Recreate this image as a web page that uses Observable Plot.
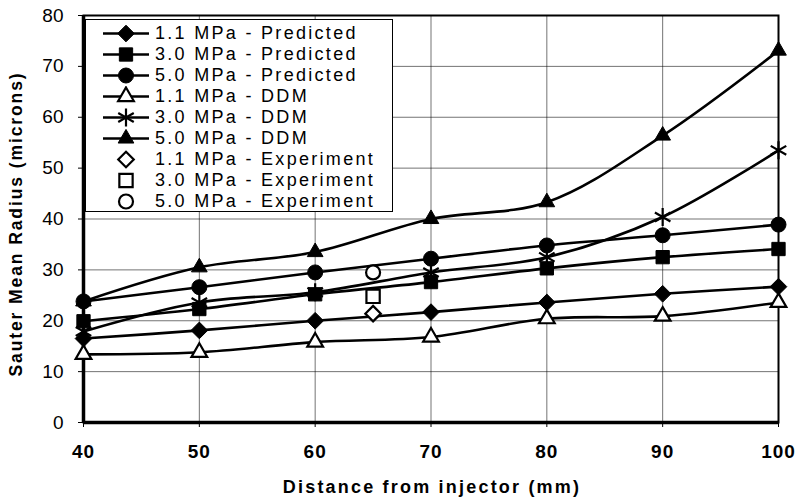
<!DOCTYPE html>
<html>
<head>
<meta charset="utf-8">
<script src="https://cdn.jsdelivr.net/npm/d3@7"></script>
<script src="https://cdn.jsdelivr.net/npm/@observablehq/plot@0.6"></script>
<style>
  html, body { margin: 0; padding: 0; background: #fff; }
  #wrap { position: relative; width: 801px; height: 502px; font-family: "Liberation Sans", Arial, sans-serif; }
  #wrap svg.plot text { font-family: "Liberation Sans", Arial, sans-serif; }
  g[aria-label="x-axis tick label"] text { font-size: 19px; font-weight: bold; letter-spacing: 1px; }
  g[aria-label="y-axis tick label"] text { font-size: 19px; font-weight: normal; }
  g[aria-label="x-axis label"] text { font-size: 18px; font-weight: bold; letter-spacing: 2.2px; }
  g[aria-label="y-axis label"] text { font-size: 17.5px; font-weight: bold; letter-spacing: 1.9px; }
  #legend { position: absolute; left: 85px; top: 19px; width: 306px; height: 191px; background: #fff; border: 1.5px solid #000; }
  .row { position: absolute; left: 0; height: 21px; width: 306px; }
  .row svg { position: absolute; left: 17px; top: 0; }
  .row span { position: absolute; left: 69px; top: 0px; font-size: 18px; letter-spacing: 2.3px; line-height: 21px; white-space: nowrap; }
</style>
</head>
<body>
<div id="wrap"></div>
<script>
// Data
const distances = [40, 50, 60, 70, 80, 90, 100];
const pred11 = [16.5, 18.1, 20.0, 21.7, 23.6, 25.3, 26.7];
const pred30 = [19.9, 22.3, 25.2, 27.6, 30.3, 32.5, 34.1];
const pred50 = [23.8, 26.6, 29.5, 32.2, 34.8, 36.8, 38.9];
const ddm11 = [13.4, 13.8, 15.8, 16.8, 20.4, 20.9, 23.6];
const ddm30 = [17.9, 23.6, 25.6, 29.5, 32.5, 40.4, 53.5];
const ddm50 = [23.8, 30.5, 33.5, 40.0, 43.3, 56.4, 73.1];
const expDistance = [65];
const exp11 = [21.4];
const exp30 = [24.8];
const exp50 = [29.5];
const xTicks = [40, 50, 60, 70, 80, 90, 100];
const yTicks = [0, 10, 20, 30, 40, 50, 60, 70, 80];

const seriesDefs = [
  {name: "1.1 MPa - Predicted", xs: distances, ys: pred11, symbol: "diamond2", fill: "black", line: true, r: 7.5},
  {name: "3.0 MPa - Predicted", xs: distances, ys: pred30, symbol: "square", fill: "black", line: true, r: 7.5},
  {name: "5.0 MPa - Predicted", xs: distances, ys: pred50, symbol: "circle", fill: "black", line: true, r: 7.5},
  {name: "1.1 MPa - DDM", xs: distances, ys: ddm11, symbol: "triangle2", fill: "white", line: true, r: 7.5},
  {name: "3.0 MPa - DDM", xs: distances, ys: ddm30, symbol: "asterisk", fill: "none", line: true, r: 8.5},
  {name: "5.0 MPa - DDM", xs: distances, ys: ddm50, symbol: "triangle2", fill: "black", line: true, r: 7.5},
  {name: "1.1 MPa - Experiment", xs: expDistance, ys: exp11, symbol: "diamond2", fill: "white", line: false, r: 7},
  {name: "3.0 MPa - Experiment", xs: expDistance, ys: exp30, symbol: "square", fill: "white", line: false, r: 7.5},
  {name: "5.0 MPa - Experiment", xs: expDistance, ys: exp50, symbol: "circle", fill: "white", line: false, r: 7}
];

const marks = [
  Plot.gridX(xTicks, {stroke: "#000", strokeOpacity: 0.55, strokeWidth: 1}),
  Plot.gridY(yTicks, {stroke: "#000", strokeOpacity: 0.55, strokeWidth: 1}),
  Plot.frame({stroke: "#000", strokeWidth: 2}),
  Plot.ruleX([40], {stroke: "#000", strokeWidth: 3.5}),
  Plot.ruleY([0], {stroke: "#000", strokeWidth: 3.5}),
  Plot.axisX({ticks: xTicks, tickSize: 5, tickPadding: 17, label: "Distance from injector (mm)", labelAnchor: "center", labelArrow: "none", labelOffset: 60}),
  Plot.axisY({ticks: yTicks, tickSize: 5, tickPadding: 15, label: "Sauter Mean Radius (microns)", labelAnchor: "center", labelArrow: "none", labelOffset: 60})
];

for (const s of seriesDefs) {
  const data = s.xs.map((x, i) => ({x, y: s.ys[i]}));
  if (s.line) marks.push(Plot.line(data, {x: "x", y: "y", curve: "catmull-rom", stroke: "#000", strokeWidth: 2.6}));
}
for (const s of seriesDefs) {
  const data = s.xs.map((x, i) => ({x, y: s.ys[i]}));
  marks.push(Plot.dot(data, {x: "x", y: "y", symbol: () => s.symbol, r: s.r,
    fill: s.fill, stroke: "#000", strokeWidth: s.fill === "black" ? 1 : 2.2}));
}

const chart = Plot.plot({
  width: 801,
  height: 502,
  marginLeft: 83,
  marginRight: 23,
  marginTop: 15,
  marginBottom: 80,
  x: {domain: [40, 100]},
  y: {domain: [0, 80]},
  style: {fontFamily: "Liberation Sans, Arial, sans-serif", color: "#000", background: "#fff"},
  marks
});
chart.classList.add("plot");
const wrap = document.getElementById("wrap");
wrap.appendChild(chart);

// Center axis labels precisely (letter-spacing shifts the anchor)
function centerLabel(sel, cx, cy) {
  const g = chart.querySelector(sel);
  if (!g) return;
  const t = g.querySelector("text");
  const rect = t.getBoundingClientRect();
  const wr = wrap.getBoundingClientRect();
  const dx = cx - (rect.left - wr.left + rect.width / 2);
  const dy = cy - (rect.top - wr.top + rect.height / 2);
  const prev = g.getAttribute("transform") || "";
  g.setAttribute("transform", `translate(${dx},${dy}) ${prev}`);
}
centerLabel('g[aria-label="x-axis label"]', 432, 487);
centerLabel('g[aria-label="y-axis label"]', 16, 224);

// Legend (HTML overlay)
const legend = document.createElement("div");
legend.id = "legend";
const symMap = {diamond2: d3.symbolDiamond2, square: d3.symbolSquare, circle: d3.symbolCircle, triangle2: d3.symbolTriangle2, asterisk: d3.symbolAsterisk};
seriesDefs.forEach((s, i) => {
  const row = document.createElement("div");
  row.className = "row";
  row.style.top = (3 + i * 21) + "px";
  const size = Math.PI * s.r * s.r;
  const path = d3.symbol(symMap[s.symbol], size)();
  const lineEl = s.line ? `<line x1="0" x2="46" y1="10.5" y2="10.5" stroke="#000" stroke-width="2.6"/>` : "";
  row.innerHTML = `<svg width="46" height="21">${lineEl}<path transform="translate(23,10.5)" d="${path}" fill="${s.fill}" stroke="#000" stroke-width="${s.fill === 'black' ? 1 : 2.2}"/></svg><span>${s.name}</span>`;
  legend.appendChild(row);
});
wrap.appendChild(legend);
</script>
</body>
</html>
